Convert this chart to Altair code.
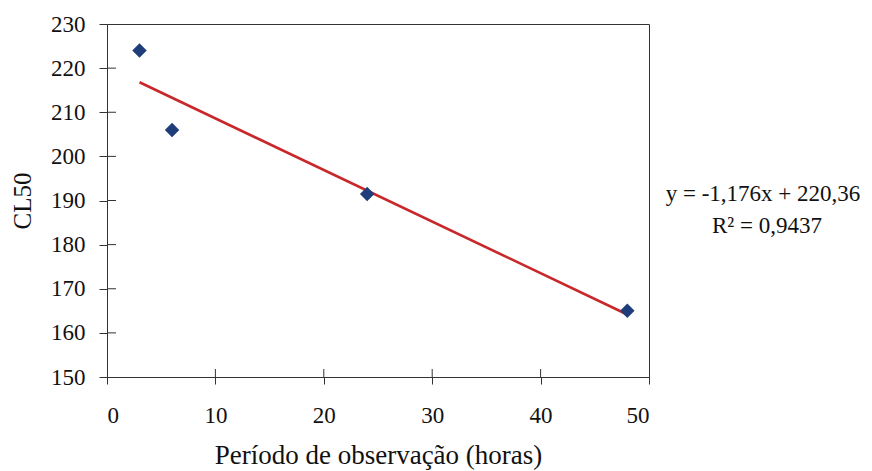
import altair as alt
import pandas as pd

hours = [3, 6, 24, 48]
cl50 = [224, 206, 191.5, 165]
x_ticks = [0, 10, 20, 30, 40, 50]
y_ticks = [150, 160, 170, 180, 190, 200, 210, 220, 230]
eq_lines = ["y = -1,176x + 220,36", "R² = 0,9437"]

df = pd.DataFrame({"h": hours, "c": cl50})
FONT = "Liberation Serif"
INK = "#111111"
AX = "#333333"

xs = alt.Scale(domain=[0, 50], nice=False)
ys = alt.Scale(domain=[150, 230], nice=False)

base = alt.Chart(df)

pts = base.mark_point(shape="diamond", filled=True, size=210, color="#1f3d7a", opacity=1).encode(
    x=alt.X("h:Q", scale=xs, title="Período de observação (horas)",
            axis=alt.Axis(values=x_ticks, grid=False, tickSize=7, labelPadding=20,
                          titlePadding=15, labelFontSize=23, titleFontSize=27)),
    y=alt.Y("c:Q", scale=ys, title="CL50",
            axis=alt.Axis(values=y_ticks, grid=False, tickSize=8, labelPadding=14,
                          titlePadding=15, labelFontSize=23, titleFontSize=25)),
)

line = base.transform_regression("h", "c", method="linear").mark_line(
    color="#c8282a", strokeWidth=2.6).encode(
    x=alt.X("h:Q", scale=xs), y=alt.Y("c:Q", scale=ys))

ytk = alt.Chart(pd.DataFrame({"v": y_ticks[1:-1]})).mark_rule(color=AX).encode(
    y=alt.Y("v:Q", scale=ys), x=alt.value(0), x2=alt.value(9))
xtk = alt.Chart(pd.DataFrame({"v": x_ticks[1:-1]})).mark_rule(color=AX).encode(
    x=alt.X("v:Q", scale=xs), y=alt.value(353), y2=alt.value(345))

eq0 = alt.Chart(pd.DataFrame({"t": [eq_lines[0]]})).mark_text(
    font=FONT, fontSize=23, color=INK, align="center", baseline="alphabetic").encode(
    text="t:N", x=alt.value(656), y=alt.value(177))
eq1 = alt.Chart(pd.DataFrame({"t": [eq_lines[1]]})).mark_text(
    font=FONT, fontSize=23, color=INK, align="center", baseline="alphabetic").encode(
    text="t:N", x=alt.value(660), y=alt.value(209))

chart = alt.layer(line, pts, ytk, xtk, eq0, eq1).properties(
    width=542, height=353,
    autosize=alt.AutoSizeParams(type="none"),
    padding={"left": 107, "top": 24, "right": 223, "bottom": 94},
).configure(
    background="white",
    axis=alt.AxisConfig(labelFont=FONT, titleFont=FONT, labelColor=INK, titleColor=INK,
                        titleFontWeight="normal", domainColor=AX, tickColor=AX),
    view=alt.ViewConfig(stroke=AX, strokeWidth=1),
)

chart.save("out.html", embed_options={"renderer": "svg", "actions": False})
